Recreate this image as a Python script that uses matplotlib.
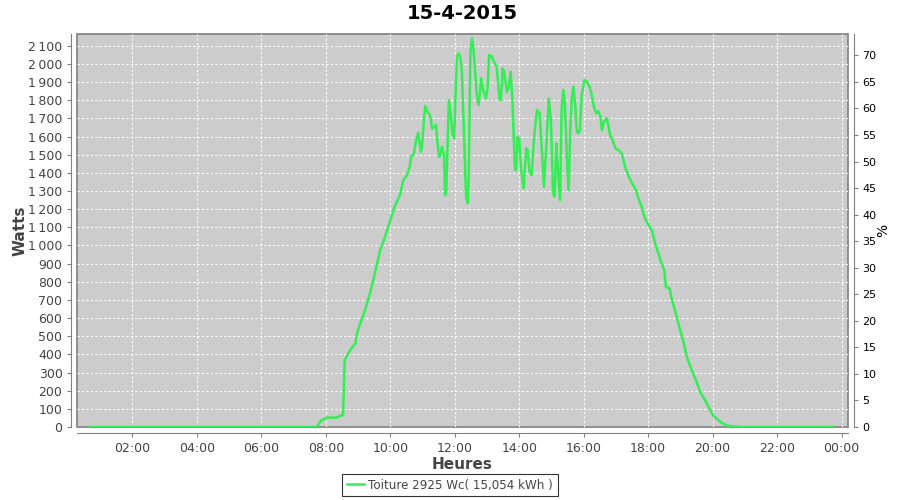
import matplotlib
matplotlib.use("Agg")
import matplotlib.pyplot as plt
from matplotlib.lines import Line2D

# Puissance mesurée (Watts) à l'heure locale
times = [
    "00:41", "03:00", "06:00", "07:21", "07:43", "07:51", "08:02", "08:21", "08:27", "08:32",
    "08:35", "08:45", "08:55", "08:58", "09:04", "09:13", "09:22", "09:29", "09:41", "09:49",
    "09:58", "10:09", "10:18", "10:24", "10:31", "10:36", "10:39", "10:44", "10:48", "10:52",
    "10:57", "10:59", "11:02", "11:05", "11:09", "11:14", "11:18", "11:23", "11:25", "11:28",
    "11:31", "11:34", "11:36", "11:40", "11:42", "11:44", "11:46", "11:49", "11:53", "11:56",
    "11:59", "12:01", "12:04", "12:07", "12:10", "12:13", "12:17", "12:21", "12:24", "12:26",
    "12:29", "12:32", "12:35", "12:38", "12:41", "12:44", "12:47", "12:49", "12:53", "12:58",
    "13:01", "13:04", "13:09", "13:13", "13:18", "13:23", "13:26", "13:29", "13:32", "13:37",
    "13:40", "13:44", "13:47", "13:50", "13:52", "13:54", "13:57", "14:00", "14:03", "14:08",
    "14:13", "14:16", "14:19", "14:23", "14:28", "14:33", "14:38", "14:42", "14:46", "14:51",
    "14:55", "14:59", "15:03", "15:06", "15:09", "15:12", "15:16", "15:19", "15:22", "15:25",
    "15:29", "15:32", "15:35", "15:38", "15:41", "15:44", "15:47", "15:50", "15:53", "15:56",
    "16:01", "16:06", "16:11", "16:15", "16:19", "16:23", "16:27", "16:31", "16:34", "16:38",
    "16:43", "16:46", "16:49", "16:54", "16:59", "17:05", "17:11", "17:17", "17:23", "17:30",
    "17:36", "17:42", "17:48", "17:54", "18:01", "18:07", "18:13", "18:19", "18:25", "18:30",
    "18:33", "18:40", "18:44", "18:50", "18:58", "19:05", "19:12", "19:21", "19:29", "19:37",
    "19:46", "19:54", "20:01", "20:11", "20:19", "20:26", "20:36", "20:51", "22:00", "23:44",
]
watts = [
    0, 0, 0, 0, 0, 35, 52, 52, 64, 64,
    367, 423, 461, 516, 571, 643, 736, 818, 974, 1038,
    1121, 1222, 1277, 1360, 1387, 1433, 1488, 1507, 1580, 1621,
    1516, 1544, 1672, 1768, 1737, 1718, 1645, 1654, 1663, 1562,
    1488, 1507, 1544, 1498, 1277, 1287, 1488, 1801, 1709, 1608,
    1590, 1800, 2040, 2058, 2040, 1966, 1636, 1268, 1232, 1378,
    2058, 2141, 2077, 1948, 1838, 1773, 1838, 1921, 1856, 1810,
    1865, 2049, 2040, 2012, 1985, 1810, 1801, 1976, 1957, 1847,
    1865, 1957, 1819, 1580, 1425, 1415, 1599, 1590, 1433, 1314,
    1535, 1525, 1406, 1387, 1608, 1746, 1728, 1525, 1323, 1580,
    1810, 1691, 1287, 1268, 1562, 1415, 1250, 1755, 1856, 1783,
    1452, 1305, 1636, 1819, 1874, 1783, 1636, 1617, 1636, 1819,
    1911, 1902, 1874, 1829, 1764, 1728, 1740, 1713, 1636, 1685,
    1700, 1663, 1608, 1580, 1535, 1525, 1507, 1433, 1387, 1342,
    1314, 1259, 1213, 1149, 1112, 1084, 1011, 956, 901, 864,
    772, 763, 703, 643, 551, 478, 386, 313, 257, 193,
    147, 101, 64, 37, 19, 9, 4, 0, 0, 0,
]
puissance_crete = 2925
titre = "15-4-2015"
legende = "Toiture 2925 Wc( 15,054 kWh )"
heures_ticks = [2, 4, 6, 8, 10, 12, 14, 16, 18, 20, 22, 24]


def main() -> None:
    hours = [int(t[:2]) + int(t[3:]) / 60 for t in times]
    green = "#33ee55"
    gray = "#808080"
    txt = "#444444"

    fig = plt.figure(figsize=(9, 5), dpi=100)
    ax = fig.add_axes([0.0856, 0.146, 0.8566, 0.786])
    ax.set_facecolor("#cccccc")
    ax.patch.set_edgecolor(gray)
    ax.patch.set_linewidth(1.2)

    ax.plot(hours, watts, color=green, lw=1.8, solid_joinstyle="round")

    ymax = 2165
    ax.set_xlim(0.28, 24.2)
    ax.set_ylim(0, ymax)
    ax.set_yticks(range(0, 2101, 100))
    ax.set_yticklabels([f"{v:,}".replace(",", "\u2009") for v in range(0, 2101, 100)])
    ax.set_xticks(heures_ticks)
    ax.set_xticklabels([f"{h % 24:02d}:00" for h in heures_ticks])
    ax.grid(True, color="white", ls=(0, (2, 2)), lw=0.8)
    ax.set_axisbelow(True)

    for side in ["left", "bottom"]:
        ax.spines[side].set_position(("outward", 4))
        ax.spines[side].set_color(gray)
    ax.spines["top"].set_visible(False)
    ax.spines["right"].set_visible(False)
    ax.tick_params(axis="both", colors=gray, labelcolor=txt, labelsize=9, length=3)

    ax.set_xlabel("Heures", fontsize=11, fontweight="bold", color=txt, labelpad=2)
    ax.set_ylabel("Watts", fontsize=11, fontweight="bold", color=txt)
    ax.yaxis.set_label_coords(-0.064, 0.5)
    ax.set_title(titre, fontsize=14, fontweight="bold", pad=11)

    ax2 = ax.twinx()
    ax2.set_ylim(0, ymax / puissance_crete * 100)
    ax2.set_yticks(range(0, 71, 5))
    for side in ["left", "bottom", "top"]:
        ax2.spines[side].set_visible(False)
    ax2.spines["right"].set_position(("outward", 4))
    ax2.spines["right"].set_color(gray)
    ax2.tick_params(axis="y", colors=gray, labelcolor="black", labelsize=8, length=3)
    ax2.set_ylabel("%", fontsize=10, color="black")
    ax2.yaxis.set_label_coords(1.037, 0.5)

    handle = Line2D([], [], color=green, lw=1.8)
    leg = fig.legend([handle], [legende], loc="lower center", bbox_to_anchor=(0.5, 0.0),
                     fontsize=8.6, frameon=True, fancybox=False, handlelength=1.4,
                     handletextpad=0.4, borderpad=0.4, borderaxespad=0.3)
    leg.get_frame().set_edgecolor("black")
    leg.get_frame().set_linewidth(0.8)
    for t in leg.get_texts():
        t.set_color(txt)

    fig.savefig("out.png", dpi=100)


if __name__ == "__main__":
    main()
